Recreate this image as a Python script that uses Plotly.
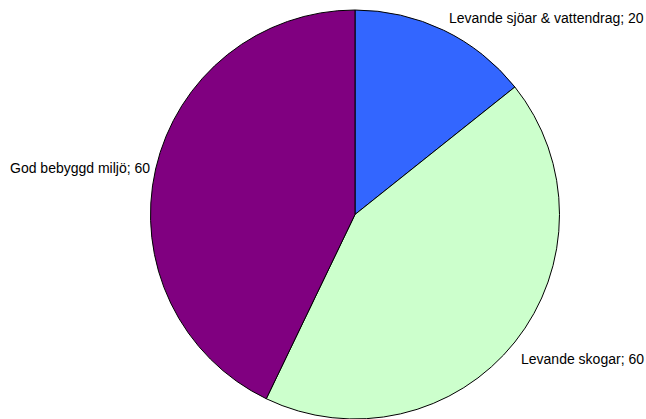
"""
Pie chart: miljömål, recreated with Plotly.
"""

import plotly.graph_objects as go

# Data
categories = ["Levande sjöar & vattendrag", "Levande skogar", "God bebyggd miljö"]
values = [20, 60, 60]
colors = ["#3366FF", "#CCFFCC", "#800080"]

W, H = 646, 419
FONT = "Liberation Sans, Arial, sans-serif"

# Label anchor points in pixels (left edge, vertical middle)
label_pos = [(447, 18), (519, 359), (8, 168)]

fig = go.Figure(go.Pie(
    labels=categories,
    values=values,
    marker=dict(colors=colors, line=dict(color="#000000", width=1)),
    sort=False,
    direction="clockwise",
    rotation=0,
    textinfo="none",
    showlegend=False,
    hoverinfo="label+value",
    domain=dict(x=[(355 - 205) / W, (355 + 205) / W], y=[0, (H - 10) / H]),
))

# Outside labels as annotations
for name, val, (px, py) in zip(categories, values, label_pos):
    fig.add_annotation(
        text=f"{name}; {val}",
        xref="paper", yref="paper",
        x=px / W, y=1 - py / H,
        xanchor="left", yanchor="middle",
        showarrow=False,
        font=dict(size=14, color="#000000", family=FONT),
    )

fig.update_layout(
    width=W,
    height=H,
    margin=dict(l=0, r=0, t=0, b=0),
    paper_bgcolor="#FFFFFF",
    plot_bgcolor="#FFFFFF",
    font=dict(family=FONT, size=14, color="#000000"),
)

# drop the default body margin so the figure sits at the window's corner
fig.write_html("out.html", config={"displayModeBar": False},
               post_script="document.body.style.margin='0';")
